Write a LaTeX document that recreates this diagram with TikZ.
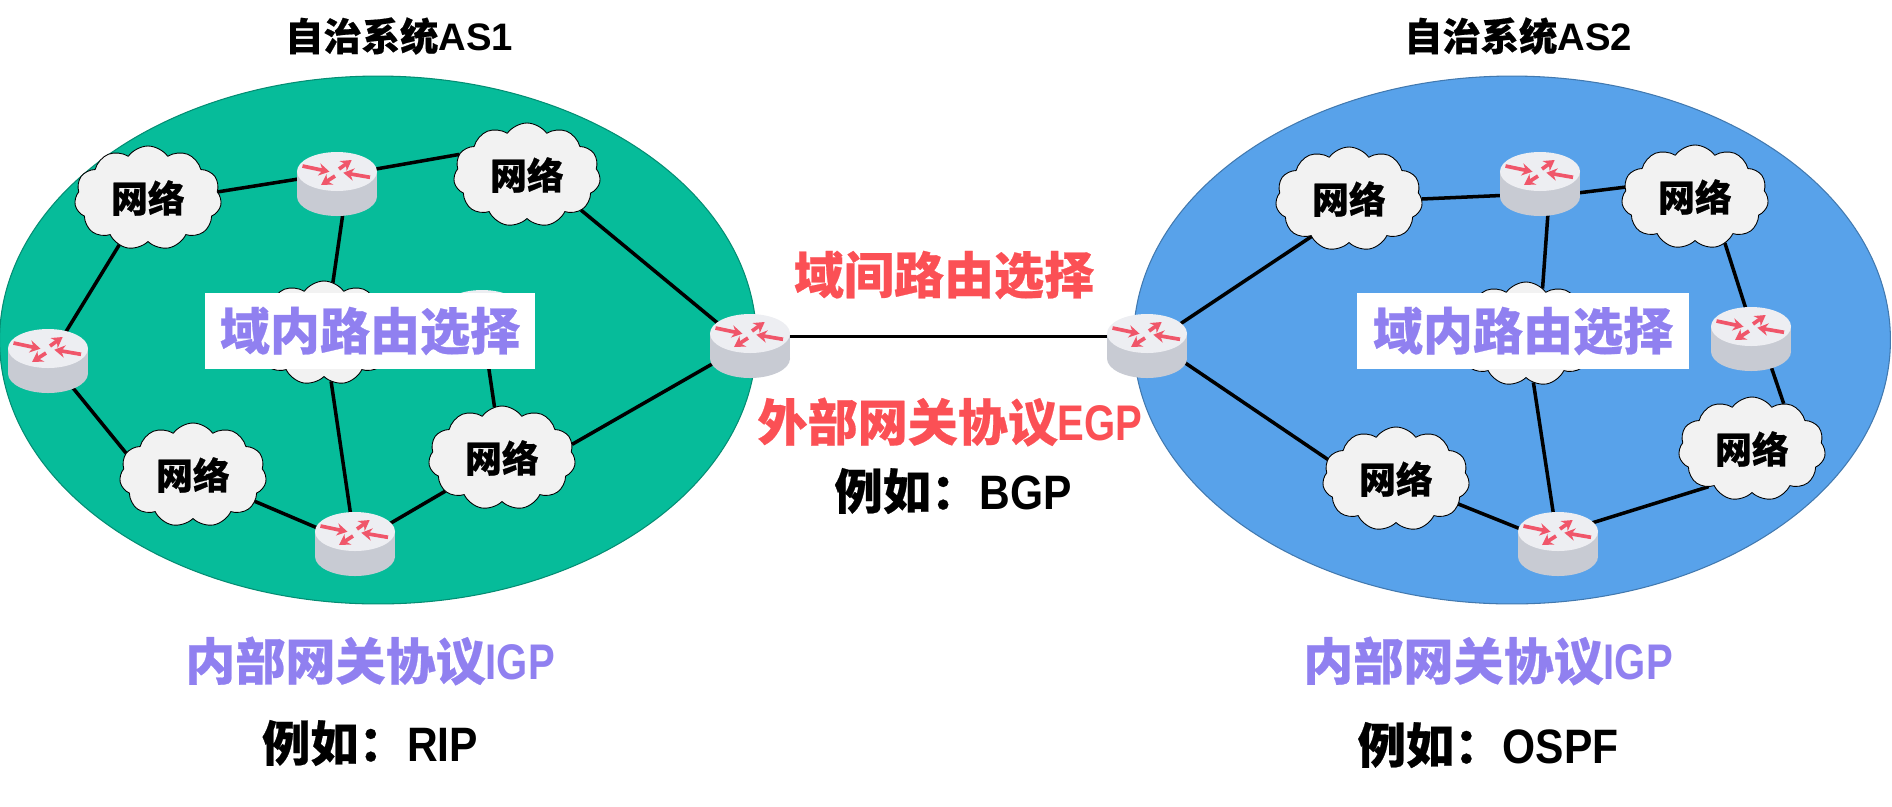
\documentclass[tikz,border=0pt]{standalone}
\usepackage{fontspec}
\setmainfont[BoldFeatures={FakeBold=0.5}]{Noto Sans CJK SC}
\newfontfamily\latinfont[FakeStretch=0.8,BoldFeatures={FakeStretch=0.8}]{Liberation Sans}
\newfontfamily\titlefont{Liberation Sans}
\newfontfamily\examplefont[FakeStretch=0.88]{Liberation Sans Bold}
\usetikzlibrary{arrows.meta,backgrounds,shapes.geometric,shapes.symbols}
\definecolor{asgreen}{HTML}{06BC9A}
\definecolor{asblue}{HTML}{58A2EA}
\definecolor{capgray}{HTML}{EDEEF2}
\definecolor{bodygray}{HTML}{C8CBD3}
\definecolor{tipred}{HTML}{F0566A}
\definecolor{igppurple}{HTML}{9080F0}
\definecolor{egpred}{HTML}{FB5055}
\tikzset{
	asblob/.style={ellipse,inner sep=0pt,minimum width=15.14cm,minimum height=10.56cm,line width=.6pt},
	netcloud/.style={cloud,cloud puffs=11,cloud puff arc=110,aspect=1.4,inner sep=0pt,outer sep=0pt,
		minimum width=2.94cm,minimum height=2.08cm,draw=black,line width=.5pt,fill=black!5,font=\fontsize{21}{23}\selectfont\bfseries},
	hub/.style={ellipse,inner sep=0pt,outer sep=0pt,minimum width=1.6cm,minimum height=1.28cm},
	bigtext/.style={font=\fontsize{28.5}{30}\selectfont\bfseries},
	smalltext/.style={font=\fontsize{27.5}{30}\selectfont\bfseries},
	titletext/.style={font=\fontsize{21.8}{24}\selectfont\bfseries},
	domainbox/.style={fill=white,inner sep=0pt,minimum height=1.52cm,text=igppurple,bigtext},
	routerpic/.pic={
		\fill[bodygray] (-40,-12.5) rectangle (40,12.5);
		\fill[bodygray] (0,12.5) ellipse [x radius=40,y radius=19.5];
		\fill[capgray] (0,-12.5) ellipse [x radius=40,y radius=19.5];
		\foreach \a/\b in {{-34.5,-18}/{-7.5,-12.3},{2,-15}/{14.7,-24},{33,-6.7}/{6.3,-11.3},{-2,-8}/{-16,1}}
		\draw[tipred,line width=2.1pt,-{Stealth[length=6pt,width=7pt]}] (\a)--(\b);
	}
}
\begin{document}
\begin{tikzpicture}[x=.02cm,y=-.02cm,line join=round]
	\useasboundingbox (0,0) rectangle (1892,806);
	% clouds
	\foreach \n/\p/\t in {a1/{148,198}/网络,a2/{527,175}/网络,a3/{193,475}/网络,a4/{502,458}/网络,a5/{324,333}/{},
		b1/{1349,199}/网络,b2/{1695,197}/网络,b3/{1396,479}/网络,b4/{1752,449}/网络,b5/{1526,334}/{}}
	\node[netcloud] (\n) at (\p) {\t};
	% routers
	\foreach \n/\p in {p1/{337,184},p2/{48,361},p3/{750,346},p4/{355,544},p5/{482,322},
		q1/{1540,184},q2/{1147,346},q3/{1751,339},q4/{1558,544}}
	{
		\node[hub] (\n) at (\p) {};
		\pic at (\n) {routerpic};
	}
	\begin{scope}[on background layer]
		\node[asblob,fill=asgreen,draw=asgreen!75!black] (as1) at (378,340) {};
		\node[asblob,fill=asblue,draw=asblue!75!black] (as2) at (1512,340) {};
		\foreach \u/\v in {a1.5/p1.173,p1.22/a2.163,a2.-33/p3.145,p3.205/a4.11,a4/p4,p4/a3,a3.162/p2.-47,p2/a1,p1.-80/a5.80,a5/p4,p5/a4,
			b1.0/q1.197,q1.-13/b2.172,b2.-57/q3.100,q3.-54/b4.55,b4.221/q4.33,q4/b3,b3.164/q2.-23,q2/b1.225,q1.-76/b5.70,b5/q4,p3.14/q2.166}
		\draw[line width=2pt] (\u)--(\v);
	\end{scope}
	% labels
	\node[domainbox,minimum width=6.62cm] (d1) at (370,331) {域内路由选择};
	\node[domainbox,minimum width=6.64cm] (d2) at (1523,331) {域内路由选择};
	\node[titletext] (t1) at (399,36) {自治系统{\titlefont AS1}};
	\node[titletext] (t2) at (1518,36) {自治系统{\titlefont AS2}};
	\node[bigtext,text=egpred] (inter) at (944,275) {域间路由选择};
	\node[bigtext,text=egpred] (egp) at (950,422) {外部网关协议{\latinfont EGP}};
	\node[smalltext] (bgp) at (953,491) {例如：{\examplefont BGP}};
	\node[bigtext,text=igppurple] (igp1) at (370,661) {内部网关协议{\latinfont IGP}};
	\node[bigtext,text=igppurple] (igp2) at (1488,661) {内部网关协议{\latinfont IGP}};
	\node[smalltext] (rip) at (370,743) {例如：{\examplefont RIP}};
	\node[smalltext] (ospf) at (1488,745) {例如：{\examplefont OSPF}};
\end{tikzpicture}
\end{document}
